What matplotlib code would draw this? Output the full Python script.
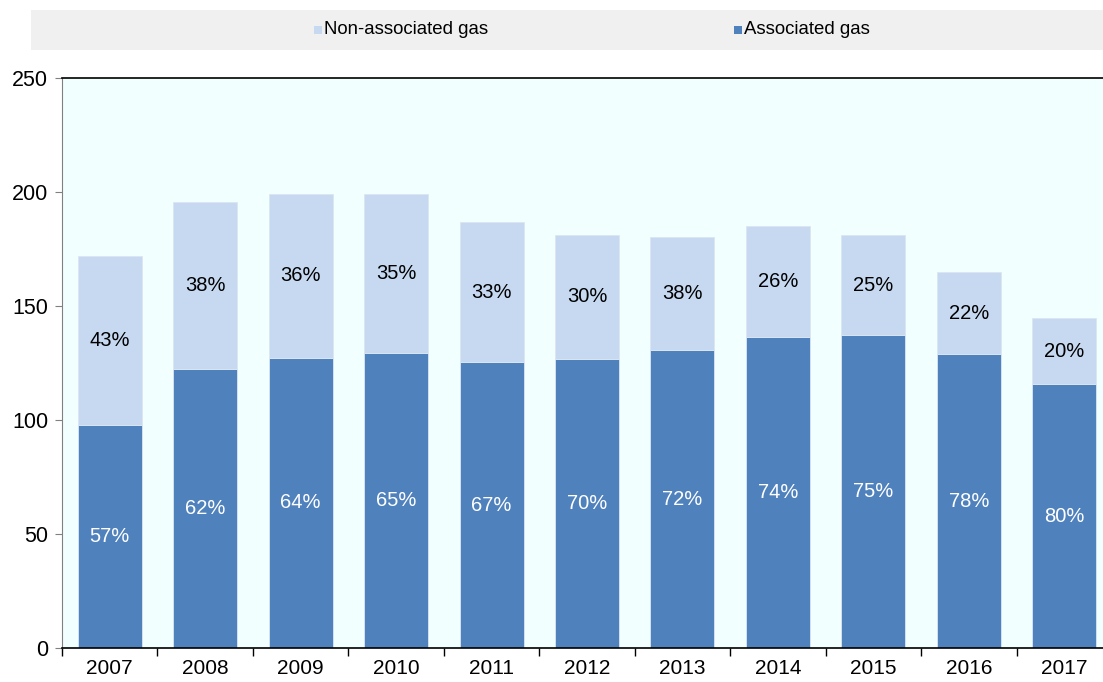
import matplotlib
matplotlib.use("Agg")
import matplotlib.pyplot as plt
from matplotlib.patches import Rectangle
import numpy as np

years = ["2007", "2008", "2009", "2010", "2011", "2012", "2013", "2014", "2015", "2016", "2017"]
associated = [97.8, 122.4, 127.4, 129.2, 125.3, 126.8, 130.6, 136.3, 137.2, 128.8, 115.6]
non_associated = [74.1, 73.2, 71.7, 69.9, 61.5, 54.3, 49.7, 48.8, 43.9, 36.1, 29.1]
assoc_pct = ["57%", "62%", "64%", "65%", "67%", "70%", "72%", "74%", "75%", "78%", "80%"]
nonassoc_pct = ["43%", "38%", "36%", "35%", "33%", "30%", "38%", "26%", "25%", "22%", "20%"]
yticks = [0, 50, 100, 150, 200, 250]

plt.rcParams['font.family'] = ['Liberation Sans', 'DejaVu Sans']

W, H = 1103, 682
fig = plt.figure(figsize=(W / 100, H / 100), dpi=100)
ax = fig.add_axes([62 / W, 1 - 648 / H, (1112 - 62) / W, (648 - 78) / H])
ax.set_facecolor('#F2FFFF')

x = np.arange(len(years))
c_assoc = '#4F81BD'
c_non = '#C6D9F1'
bw = 0.67
ax.bar(x, associated, width=bw, color=c_assoc, edgecolor='#DCE6F2', linewidth=0.6, zorder=2)
ax.bar(x, non_associated, width=bw, bottom=associated, color=c_non, edgecolor='#DCE6F2', linewidth=0.6, zorder=2)

for i in range(len(years)):
    ax.text(x[i], associated[i] / 2, assoc_pct[i], ha='center', va='center', color='white', fontsize=14.5, zorder=3)
    ax.text(x[i], associated[i] + non_associated[i] / 2, nonassoc_pct[i], ha='center', va='center', color='black', fontsize=14.5, zorder=3)

ax.set_xlim(-0.5, len(years) - 0.5)
ax.set_ylim(0, 250)
ax.set_yticks(yticks)
ax.set_yticklabels([str(v) for v in yticks], fontsize=15.5)
ax.set_xticks(x)
ax.set_xticklabels(years, fontsize=15)
ax.tick_params(axis='x', length=0, pad=8)
ax.set_xticks(np.arange(-0.5, len(years), 1), minor=True)
ax.tick_params(axis='x', which='minor', length=6, color='black', width=1)
ax.tick_params(axis='y', length=5, color='#808080', pad=5)

ax.spines['right'].set_visible(False)
ax.spines['top'].set_color('black')
ax.spines['top'].set_linewidth(1.2)
ax.spines['left'].set_color('#808080')
ax.spines['bottom'].set_color('black')
ax.spines['bottom'].set_linewidth(1.2)

# legend box
fig.patches.append(Rectangle((31 / W, 1 - 50 / H), (1103 - 31) / W, 40 / H,
                             transform=fig.transFigure, facecolor='#F0F0F0', edgecolor='none', zorder=0))
fig.patches.append(Rectangle((314 / W, 1 - 34 / H), 8 / W, 8 / H, transform=fig.transFigure,
                             facecolor=c_non, edgecolor='none'))
fig.text(324 / W, 1 - 29 / H, "Non-associated gas", fontsize=13.4, va='center', ha='left')
fig.patches.append(Rectangle((734 / W, 1 - 34 / H), 8 / W, 8 / H, transform=fig.transFigure,
                             facecolor=c_assoc, edgecolor='none'))
fig.text(744 / W, 1 - 29 / H, "Associated gas", fontsize=13.4, va='center', ha='left')

fig.savefig('out.png', dpi=100, facecolor='white')
